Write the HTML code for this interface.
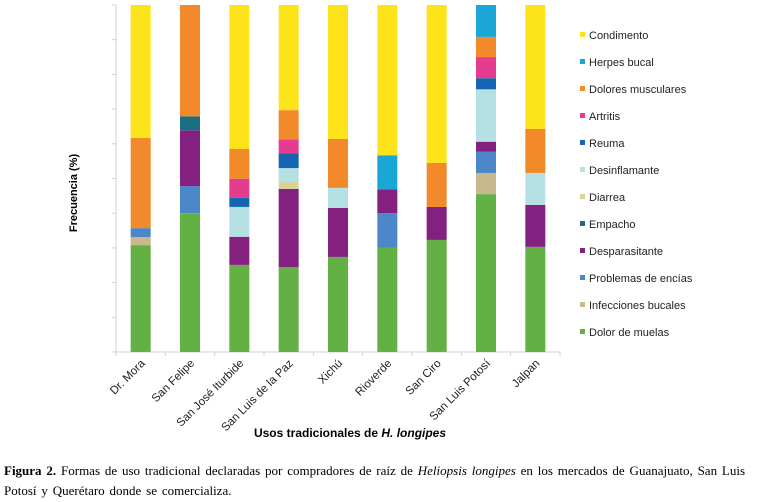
<!DOCTYPE html>
<html><head><meta charset="utf-8"><style>
body{margin:0;background:#fff;width:757px;height:502px;overflow:hidden}
.cap{position:absolute;left:4px;top:461px;width:753px;font:13px "Liberation Serif",serif;word-spacing:1.6px;line-height:20px;color:#000;white-space:nowrap}
</style></head><body>
<svg id="chart" width="757" height="455" style="position:absolute;left:0;top:0" font-family="Liberation Sans, sans-serif"></svg>
<div class="cap"><b>Figura 2.</b> Formas de uso tradicional declaradas por compradores de raíz de <i>Heliopsis longipes</i> en los mercados de Guanajuato, San Luis<br>Potosí y Querétaro donde se comercializa.</div>
<script>
const categories=["Dr. Mora","San Felipe","San José Iturbide","San Luis de la Paz","Xichú","Rioverde","San Ciro","San Luis Potosí","Jalpan"];
const seriesNames=["Dolor de muelas","Infecciones bucales","Problemas de encías","Desparasitante","Empacho","Diarrea","Desinflamante","Reuma","Artritis","Dolores musculares","Herpes bucal","Condimento"];
const seriesColors=["#63b145","#c9b88c","#4b87c9","#842080","#1b6d80","#d8d39a","#b5e0e4","#1565b0","#e53c8f","#f28a2b","#1ba7d5","#fde31a"];
const dolorMuelas=[30.8,40,25.1,24.5,27.4,30,32.3,45.5,30.3];
const infecciones=[2.3,0,0,0,0,0,0,6.1,0];
const encias=[2.6,7.8,0,0,0,10,0,6.1,0];
const desparasitante=[0,16.1,8.1,22.5,14.1,6.9,9.5,2.9,12.1];
const empacho=[0,4,0,0,0,0,0,0,0];
const diarrea=[0,0,0,2,0,0,0,0,0];
const desinflamante=[0,0,8.6,4,5.8,0,0,15.1,9.2];
const reuma=[0,0,2.6,4.3,0,0,0,3.2,0];
const artritis=[0,0,5.5,4,0,0,0,6.1,0];
const doloresMusc=[26,32.1,8.6,8.4,14.1,0,12.7,5.8,12.7];
const herpes=[0,0,0,0,0,9.8,0,9.2,0];
const condimento=[38.3,0,41.5,30.3,38.6,43.3,45.5,0,35.7];
const series=[dolorMuelas,infecciones,encias,desparasitante,empacho,diarrea,desinflamante,reuma,artritis,doloresMusc,herpes,condimento];
const yTicks=[0,10,20,30,40,50,60,70,80,90,100];

const svg=document.getElementById('chart');
const NS='http://www.w3.org/2000/svg';
const X0=116,X1=560,Y0=352,Y1=5;
const band=(X1-X0)/categories.length;
const xC=i=>X0+band*(i+0.5);
const y=v=>Y0-(v/100)*(Y0-Y1);
function mk(tag,attrs){const e=document.createElementNS(NS,tag);for(const k in attrs)e.setAttribute(k,attrs[k]);svg.appendChild(e);return e;}

const ax=mk('line',{x1:X0,y1:Y1,x2:X0,y2:Y0,stroke:'#d0d0d0'});


const bx=mk('line',{x1:X0,y1:Y0,x2:X1,y2:Y0,stroke:'#d0d0d0'});


yTicks.forEach(t=>{const l=mk('line',{x1:X0-4,y1:y(t),x2:X0,y2:y(t),stroke:'#d0d0d0'});

});
for(let i=0;i<=categories.length;i++){const l=mk('line',{x1:X0+band*i,y1:Y0,x2:X0+band*i,y2:Y0+4,stroke:'#d0d0d0'});

}

categories.forEach((c,i)=>{
  let base=0;
  series.forEach((s,k)=>{
    const v=s[i];if(!v)return;
    const r=mk('rect',{x:xC(i)-10,y:y(base+v),width:20,height:y(base)-y(base+v),fill:seriesColors[k]});
    
    
    base+=v;
  });
  const t=mk('text',{x:xC(i)+5,y:364,'font-size':11.5,'text-anchor':'end',fill:'#222',transform:`rotate(-45 ${xC(i)+5} 364)`});
  t.textContent=c;
  
  
});

const yt=mk('text',{x:77,y:193,'font-size':11,'font-weight':'bold','text-anchor':'middle',transform:'rotate(-90 77 193)'});
yt.textContent='Frecuencia  (%)';


const xt=mk('text',{x:350,y:437,'font-size':12,'font-weight':'bold','text-anchor':'middle'});
xt.innerHTML='Usos tradicionales de <tspan font-style="italic">H. longipes</tspan>';



for(let k=seriesNames.length-1;k>=0;k--){
  const j=seriesNames.length-1-k;const ly=35+j*27;
  const g=mk('g',{});
  
  
  const r=document.createElementNS(NS,'rect');r.setAttribute('x',580);r.setAttribute('y',ly-3);r.setAttribute('width',5);r.setAttribute('height',5);r.setAttribute('fill',seriesColors[k]);g.appendChild(r);
  const t=document.createElementNS(NS,'text');t.setAttribute('x',589);t.setAttribute('y',ly+4);t.setAttribute('font-size',11);t.setAttribute('fill','#222');t.textContent=seriesNames[k];g.appendChild(t);
}
</script>
</body></html>
